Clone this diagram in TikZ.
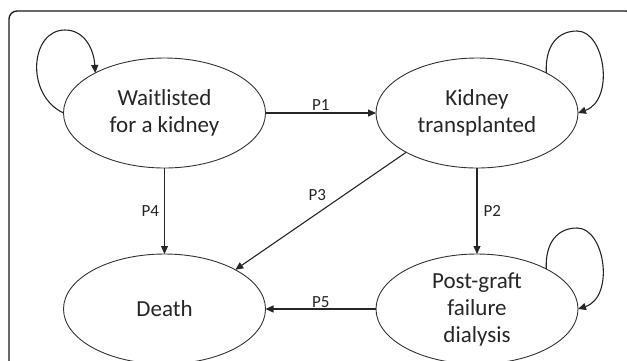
\documentclass[tikz,border=0pt]{standalone}
\usepackage{fontspec}
\setmainfont{Carlito}
\usetikzlibrary{arrows.meta,shapes.geometric}
\tikzset{
  state/.style={ellipse, draw=black!80, line width=0.9pt, minimum width=202pt, minimum height=110pt,
    inner sep=0pt, outer sep=0pt, align=center, text=black!85,
    font=\fontsize{23}{27}\selectfont},
  conn/.style={draw=black!85, line width=1.1pt, -{Triangle[length=8pt,width=7pt]}},
  lbl/.style={inner sep=0pt, text=black!85, font=\fontsize{17}{20}\selectfont},
  frame/.style={draw=black!90, line width=1.3pt, rounded corners=8pt}
}
\begin{document}
\begin{tikzpicture}[x=1pt,y=-1pt]
\useasboundingbox (0,0) rectangle (627,360);
\clip (0,0) rectangle (627,360);
\draw[frame] (9,11) rectangle (634,372);
\node[state] (w) at (164.5,113) {Waitlisted\\for a kidney};
\node[state] (k) at (477,113) {Kidney\\transplanted};
\node[state] (d) at (164.5,309) {Death};
\node[state] (p) at (477,309) {Post-graft\\failure\\dialysis};
% self loops
\draw[conn] (w.west) .. controls (25,95) and (30,30) .. (65,30) .. controls (85,30) and (94,50) .. (w.150);
\draw[conn] (k.30) .. controls (545,45) and (558,31) .. (577,31) .. controls (605,31) and (615,100) .. (k.east);
\draw[conn] (p.30) .. controls (545,242) and (558,228) .. (577,228) .. controls (605,228) and (615,297) .. (p.east);
% transitions
\draw[conn] (w.east) -- node[lbl, midway, above=2pt] {P1} (k.west);
\draw[conn] (w.south) -- node[lbl, midway, left=5pt] {P4} (d.north);
\draw[conn] (k.south) -- node[lbl, midway, right=6pt] {P2} (p.north);
\draw[conn] (k.209) -- node[lbl, pos=0.52, above=12pt] {P3} (d.29.5);
\draw[conn] (p.west) -- node[lbl, midway, above=0.7pt] {P5} (d.east);
\end{tikzpicture}
\end{document}
